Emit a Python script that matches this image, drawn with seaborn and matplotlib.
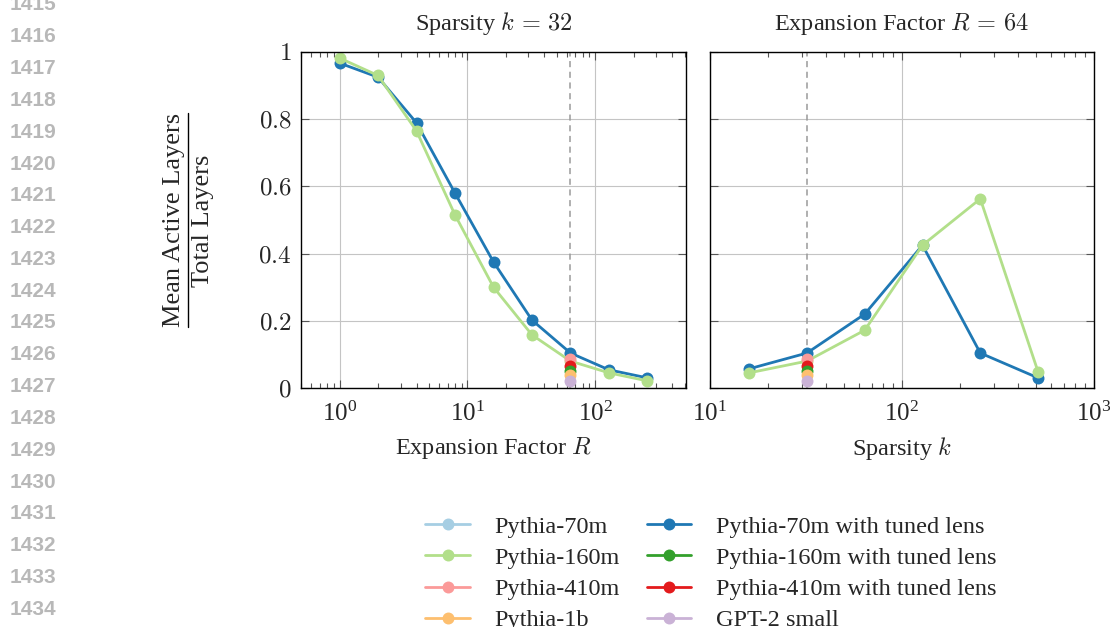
import matplotlib
matplotlib.use("Agg")
import matplotlib.pyplot as plt
from matplotlib.lines import Line2D
from matplotlib.ticker import LogLocator, NullFormatter, FixedLocator, FixedFormatter
import pandas as pd
import seaborn as sns

# ---- data -------------------------------------------------------------
# Sweep over expansion factor R at sparsity k = 32
expansion = [1, 2, 4, 8, 16, 32, 64, 128, 256]
pythia70m_tuned_by_R = [0.967, 0.925, 0.789, 0.580, 0.375, 0.202, 0.104, 0.054, 0.030]
pythia160m_by_R = [0.982, 0.930, 0.765, 0.515, 0.300, 0.158, 0.080, 0.045, 0.021]

# Sweep over sparsity k at expansion factor R = 64
sparsity = [16, 32, 64, 128, 256, 512]
pythia70m_tuned_by_k = [0.057, 0.104, 0.220, 0.425, 0.104, 0.030]
pythia160m_by_k = [0.045, 0.080, 0.172, 0.425, 0.563, 0.048]

# Models evaluated only at the default configuration (R = 64, k = 32)
default_R = 64
default_k = 32
single_models = ["Pythia-70m", "Pythia-410m", "Pythia-410m with tuned lens",
                 "Pythia-160m with tuned lens", "Pythia-1b", "GPT-2 small"]
single_values = [0.100, 0.085, 0.066, 0.050, 0.040, 0.022]

legend_order = ["Pythia-70m", "Pythia-160m", "Pythia-410m", "Pythia-1b",
                "Pythia-70m with tuned lens", "Pythia-160m with tuned lens",
                "Pythia-410m with tuned lens", "GPT-2 small"]

colors = {
    "Pythia-70m": "#a6cee3",
    "Pythia-160m": "#b2df8a",
    "Pythia-410m": "#fb9a99",
    "Pythia-1b": "#fdbf6f",
    "Pythia-70m with tuned lens": "#1f78b4",
    "Pythia-160m with tuned lens": "#33a02c",
    "Pythia-410m with tuned lens": "#e31a1c",
    "GPT-2 small": "#cab2d6",
}

# ---- style ------------------------------------------------------------
sns.set_theme(style="ticks")
plt.rcParams["font.family"] = ["Liberation Serif", "DejaVu Serif"]
plt.rcParams["mathtext.fontset"] = "cm"
plt.rcParams["axes.unicode_minus"] = False
FS = 17.5
TICK_FS = 18

fig = plt.figure(figsize=(11.10, 6.27), dpi=100)
ax_r = fig.add_axes([0.2712, 0.3812, 0.3468, 0.5359])
ax_k = fig.add_axes([0.6396, 0.3812, 0.3459, 0.5359])

line_kw = dict(marker="o", markersize=8.6, markeredgewidth=0, linewidth=2.0)


def draw_panel(ax, xs, tuned70, p160, x_default):
    # single-point model before the sweeps so it sits underneath them
    sns.lineplot(x=[x_default], y=[single_values[0]], ax=ax,
                 color=colors[single_models[0]], label=single_models[0], **line_kw)
    sns.lineplot(x=xs, y=tuned70, ax=ax, color=colors["Pythia-70m with tuned lens"],
                 label="Pythia-70m with tuned lens", **line_kw)
    sns.lineplot(x=xs, y=p160, ax=ax, color=colors["Pythia-160m"],
                 label="Pythia-160m", **line_kw)
    for name, val in zip(single_models[1:], single_values[1:]):
        sns.lineplot(x=[x_default], y=[val], ax=ax, color=colors[name],
                     label=name, **line_kw)
    ax.axvline(x_default, color="#9a9a9a", linestyle=(0, (4, 3)), linewidth=1.1, zorder=1.5)

    ax.set_xscale("log")
    ax.set_ylim(0, 1)
    ax.yaxis.set_major_locator(FixedLocator([0, 0.2, 0.4, 0.6, 0.8, 1.0]))
    ax.yaxis.set_major_formatter(FixedFormatter(["$0$", "$0.2$", "$0.4$", "$0.6$", "$0.8$", "$1$"]))
    ax.xaxis.set_major_locator(LogLocator(base=10))
    ax.xaxis.set_minor_locator(LogLocator(base=10, subs=range(2, 10)))
    ax.xaxis.set_minor_formatter(NullFormatter())
    ax.grid(True, which="major", color="#c4c4c4", linewidth=0.8)
    ax.grid(False, which="minor")
    ax.set_axisbelow(True)
    ax.tick_params(which="both", direction="in", top=True, right=True,
                   color="#555555", width=0.8, labelsize=TICK_FS)
    ax.tick_params(which="major", length=6)
    ax.tick_params(axis="x", which="major", pad=10)
    ax.tick_params(axis="y", which="major", pad=7)
    ax.tick_params(which="minor", length=3.5)
    for s in ax.spines.values():
        s.set_color("black")
        s.set_linewidth(1.0)
    ax.set_ylabel("")
    if ax.get_legend() is not None:
        ax.get_legend().remove()


draw_panel(ax_r, expansion, pythia70m_tuned_by_R, pythia160m_by_R, default_R)
draw_panel(ax_k, sparsity, pythia70m_tuned_by_k, pythia160m_by_k, default_k)

ax_r.set_xlim(0.5, 512)
ax_k.set_xlim(10, 1000)
ax_k.tick_params(labelleft=False)

ax_r.set_title(r"Sparsity $k\,=\,32$", fontsize=FS, pad=16)
ax_k.set_title(r"Expansion Factor $R\,=\,64$", fontsize=FS, pad=16)
ax_r.set_xlabel(r"Expansion Factor $R$", fontsize=FS, labelpad=6)
ax_k.set_xlabel(r"Sparsity $k$", fontsize=FS, labelpad=6)

# y-axis label as a stacked fraction
YL_FS = 19
fig.text(174 / 1110, 1 - 220 / 627, "Mean Active Layers", rotation=90,
         ha="center", va="center", fontsize=YL_FS)
fig.text(203 / 1110, 1 - 221 / 627, "Total Layers", rotation=90,
         ha="center", va="center", fontsize=YL_FS)
fig.add_artist(Line2D([187.5 / 1110, 187.5 / 1110], [1 - 113 / 627, 1 - 327 / 627],
                      transform=fig.transFigure, color="black", linewidth=1.0))

# shared legend
handles, labels = ax_r.get_legend_handles_labels()
by_label = dict(zip(labels, handles))
fig.legend([by_label[n] for n in legend_order], legend_order, ncol=2,
           loc="upper left", bbox_to_anchor=(0.383, 0.1775), frameon=False,
           fontsize=FS, handlelength=1.85, handletextpad=1.0, columnspacing=1.1,
           labelspacing=0.38, borderpad=0, borderaxespad=0)

# manuscript line numbers in the margin
for i, n in enumerate(range(1415, 1435)):
    y = 5 + i * 31.8
    fig.text(10 / 1110, 1 - y / 627, str(n), ha="left", va="center",
             fontsize=15, color="#b8b8b8", family="Liberation Sans", weight="bold")

fig.savefig("out.png", dpi=100)
